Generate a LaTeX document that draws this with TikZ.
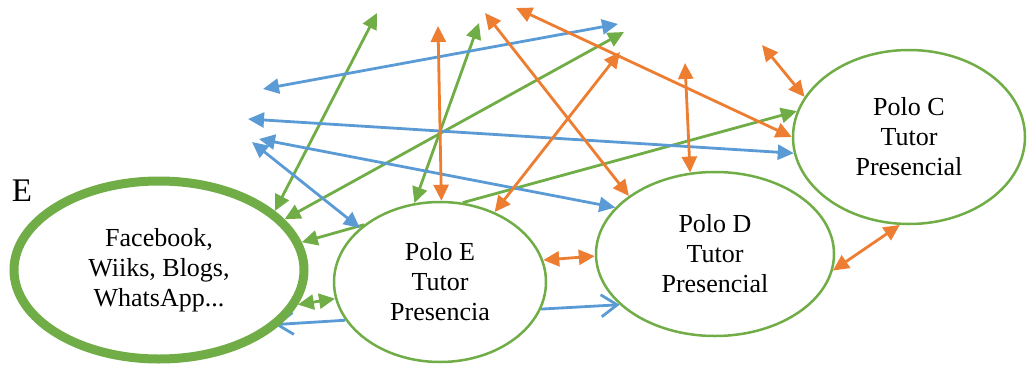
\documentclass[tikz,border=0pt]{standalone}
\usepackage{fontspec}
\setmainfont{Liberation Serif}
\usetikzlibrary{arrows.meta,shapes.geometric,backgrounds}
\definecolor{ablue}{HTML}{5B9BD5}
\definecolor{aorange}{HTML}{ED7D31}
\definecolor{agreen}{HTML}{70AD47}
\begin{document}
\begin{tikzpicture}[x=1pt,y=-1pt,
  ell/.style={ellipse, draw=agreen, line width=2.5pt, fill=white, inner sep=0pt,
    align=center, font=\fontsize{26}{30}\selectfont},
  dbl/.style={line width=2.8pt, {Triangle[length=16pt,width=15pt]}-{Triangle[length=16pt,width=15pt]}},
  sgl/.style={line width=2.8pt, -{Triangle[length=16pt,width=15pt]}},
  opn/.style={line width=2.8pt, -{Straight Barb[length=16pt,width=22pt]}},
  lbl/.style={font=\fontsize{33}{36}\selectfont, inner sep=0pt}
]
\useasboundingbox (0,0) rectangle (1028,367);

\node[ell, line width=9pt, minimum width=290pt, minimum height=178pt] (fb) at (159,270)
  {Facebook,\\Wiiks, Blogs,\\WhatsApp...};
\node[ell, minimum width=212pt, minimum height=160pt] (pe) at (440,282)
  {Polo E\\Tutor\\Presencia};
\node[ell, minimum width=238pt, minimum height=164pt] (pd) at (715,254)
  {Polo D\\Tutor\\Presencial};
\node[ell, minimum width=232pt, minimum height=174pt] (pc) at (909,137)
  {Polo C\\Tutor\\Presencial};
\node[lbl] (elabel) at (22,191) {E};

\coordinate (g1) at (377,13);
\coordinate (g2) at (624,32);
\coordinate (g3) at (479,23);
\coordinate (b1a) at (263,89);
\coordinate (b1b) at (618,24);
\coordinate (b2a) at (248,119);
\coordinate (b3a) at (259,139);
\coordinate (b4a) at (252,142);
\coordinate (o1) at (438,26);
\coordinate (o2) at (485,13);
\coordinate (o3) at (516,8);
\coordinate (o4) at (620,52);
\coordinate (o5) at (685,63);
\coordinate (o6) at (762,45);

\begin{scope}[on background layer]
  % green
  \draw[dbl, agreen] (g1) -- (fb.27);
  \draw[dbl, agreen] (g2) -- (fb.22);
  \draw[dbl, agreen] (g3) -- (pe.108);
  \draw[sgl, agreen] (pe.74) -- (pc.167);
  \draw[sgl, agreen] (pe.143) -- (fb.11);
  \draw[dbl, agreen] (fb.346) -- (pe.189);
  % blue
  \draw[dbl, ablue] (b1a) -- (b1b);
  \draw[dbl, ablue] (b2a) -- (pc.188);
  \draw[dbl, ablue] (b3a) -- (pd.155);
  \draw[dbl, ablue] (b4a) -- (pe.146);
  \draw[opn, ablue, shorten >=-6pt] (pe.202) -- (fb.336);
  \draw[opn, ablue] (pe.345) -- (pd.208);
  % orange
  \draw[dbl, aorange] (o1) -- (pe.89);
  \draw[dbl, aorange] (o2) -- (pd.146);
  \draw[dbl, aorange] (o3) -- (pc.180);
  \draw[dbl, aorange] (o4) -- (pe.52);
  \draw[dbl, aorange] (o5) -- (pd.107);
  \draw[dbl, aorange] (o6) -- (pc.159);
  \draw[dbl, aorange] (pe.12) -- (pd.181);
  \draw[dbl, aorange] (pd.352) -- (pc.264);
\end{scope}
\end{tikzpicture}
\end{document}
